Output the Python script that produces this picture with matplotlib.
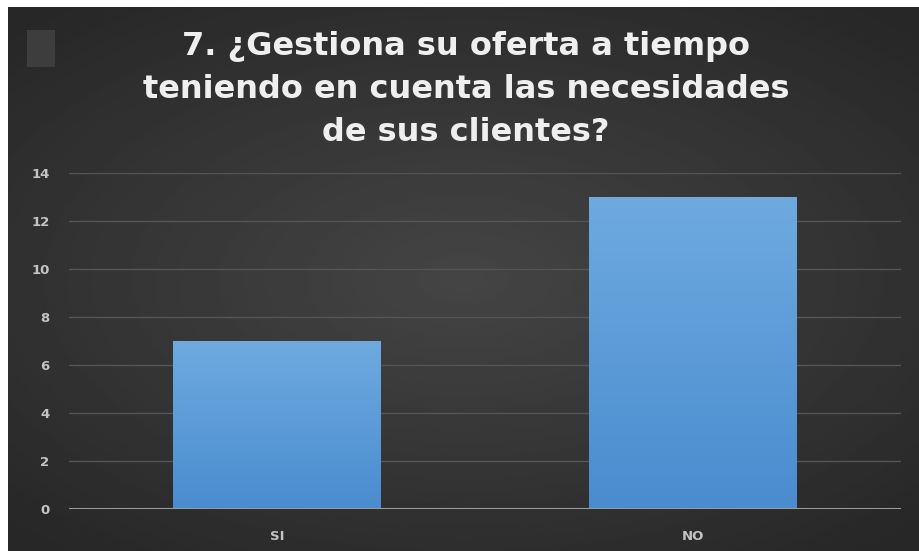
import numpy as np
import matplotlib.pyplot as plt
from matplotlib.patches import Rectangle
from matplotlib.colors import LinearSegmentedColormap

categories = ["SI", "NO"]
values = [7, 13]
yticks = [0, 2, 4, 6, 8, 10, 12, 14]
title = "7. ¿Gestiona su oferta a tiempo\nteniendo en cuenta las necesidades\nde sus clientes?"

W, H = 919, 551
fig = plt.figure(figsize=(W / 100, H / 100), dpi=100, facecolor="white")

# dark background with a soft radial gradient
bg = fig.add_axes([8 / W, 0, 1 - 8 / W, 1 - 7 / H])
yy, xx = np.mgrid[-1:1:200j, -1:1:300j]
r = np.sqrt((xx * 0.9) ** 2 + (yy * 1.0) ** 2)
bg.imshow(0.27 - 0.09 * np.clip(r, 0, 1.3), cmap="gray", vmin=0, vmax=1,
          aspect="auto", extent=[0, 1, 0, 1])
bg.add_patch(Rectangle((19 / (W - 8), 1 - 60 / (H - 7)), 28 / (W - 8), 37 / (H - 7),
                       color="#3d3d3d", lw=0))
bg.set_axis_off()

fig.text(466 / W, 1 - 89 / H, title, ha="center", va="center", color="#efefef",
         fontsize=23, fontweight="bold", family="DejaVu Sans", linespacing=1.5)

ax = fig.add_axes([69 / W, 1 - 509 / H, (901 - 69) / W, (509 - 173) / H])
ax.set_facecolor("none")
x = np.arange(len(categories))
bars = ax.bar(x, values, width=0.5, color="#5b9bd5", zorder=2)

# vertical gradient on bars
grad = np.linspace(0, 1, 100).reshape(-1, 1)
cmap = LinearSegmentedColormap.from_list("b", ["#4a8ccf", "#6eaae0"])
for b in bars:
    b.set_facecolor("none")
    x0, y0 = b.get_x(), b.get_y()
    im = ax.imshow(grad, cmap=cmap, aspect="auto", origin="lower",
                   extent=[x0, x0 + b.get_width(), y0, y0 + b.get_height()], zorder=2)
    im.set_clip_path(b)

ax.set_xlim(-0.5, 1.5)
ax.set_ylim(0, 14)
ax.set_yticks(yticks)
ax.set_xticks(x, categories)
ax.grid(axis="y", color="#555555", lw=1, zorder=0)
ax.axhline(0, color="#9a9a9a", lw=1.5, zorder=3)
for s in ax.spines.values():
    s.set_visible(False)
ax.tick_params(length=0, colors="#c4c4c4", labelsize=9.5)
ax.tick_params(axis="y", pad=14)
ax.tick_params(axis="x", pad=15)
for t in ax.get_xticklabels() + ax.get_yticklabels():
    t.set_fontweight("bold")

fig.savefig("out.png", dpi=100, facecolor="white")
